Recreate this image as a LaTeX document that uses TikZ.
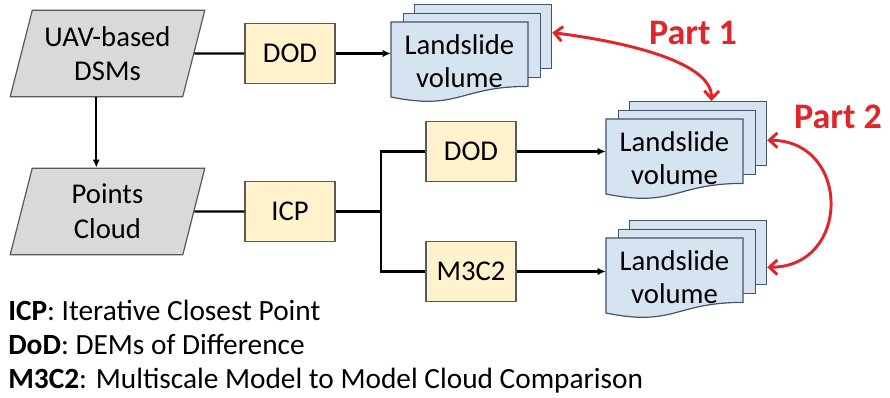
\documentclass[tikz,border=0pt]{standalone}
\usepackage{fontspec}
\setmainfont{Carlito}
\usetikzlibrary{shapes.geometric,arrows.meta}

\definecolor{inputgray}{HTML}{D9D9D9}
\definecolor{procyellow}{HTML}{FFF2CC}
\definecolor{volblue}{HTML}{D6E3F1}
\definecolor{voledge}{HTML}{44546A}
\definecolor{partred}{HTML}{E0262B}

\tikzset{
  input/.style={trapezium, trapezium left angle=68, trapezium right angle=112,
    trapezium stretches body, draw=black!65, line width=0.9pt, fill=inputgray,
    minimum width=146pt, minimum height=65pt, align=center, inner sep=0pt,
    font=\fontsize{21.5}{26}\selectfont},
  proc/.style={rectangle, draw=black!65, line width=0.9pt, fill=procyellow,
    minimum width=67.5pt, minimum height=45pt, font=\fontsize{21.5}{26}\selectfont},
  page/.style={rectangle, draw=voledge, line width=0.9pt, fill=volblue,
    minimum width=102.75pt, minimum height=48pt, anchor=north west, inner sep=0pt},
  voltext/.style={align=center, inner sep=0pt, minimum width=102.75pt,
    font=\fontsize{21.5}{25}\selectfont},
  flow/.style={line width=1.8pt},
  flowarrow/.style={flow, -{Latex[length=6pt,width=5.5pt]}},
  partarrow/.style={line width=2.2pt, partred,
    {Straight Barb[length=6pt,width=11pt]}-{Straight Barb[length=6pt,width=11pt]}},
  partlabel/.style={text=partred, font=\fontsize{27}{30}\selectfont\bfseries},
}

% stack of volume pages: name, top-left x and y of the front page
\newcommand{\volstack}[3]{
  \node[page] (#1b) at (#2+23,#3-18) {};
  \node[page] (#1m) at (#2+11.5,#3-9) {};
  \draw[voledge, line width=0.9pt, fill=volblue] (#2,#3) -- ++(137,0) -- ++(0,64.4)
    .. controls (#2+68.5,#3+64.4) and (#2+68.5,#3+89) .. (#2,#3+75) -- cycle;
  \node[voltext] (#1) at (#2+68.5,#3+39) {Landslide\\volume};
}

\begin{document}
\begin{tikzpicture}[x=0.75pt, y=-0.75pt]
  \useasboundingbox (0,0) rectangle (890,398);

  % inputs
  \node[input] (uav) at (107.5,53.5) {UAV-based\\DSMs};
  \node[input] (pts) at (107.5,211.5) {Points\\Cloud};

  % processing steps
  \node[proc] (dod1) at (290,53.5) {DOD};
  \node[proc] (icp) at (290,211.5) {ICP};
  \node[proc] (dod2) at (471,151.5) {DOD};
  \node[proc] (m3c2) at (471,271.5) {M3C2};

  % results
  \volstack{vol1}{391}{22}
  \volstack{vol2}{606}{119}
  \volstack{vol3}{606}{238}

  % flow lines
  \coordinate (split) at (381,211.5);
  \draw[flow] (uav.east) -- (dod1.west);
  \draw[flowarrow] (dod1.east) -- (dod1.east -| vol1.west);
  \draw[flowarrow] (uav.bottom side) -- (uav.bottom side |- pts.north);
  \draw[flow] (pts.east) -- (icp.west);
  \draw[flow] (icp.east) -- (split);
  \draw[flow] (dod2.west) -| (split) |- (m3c2.west);
  \draw[flowarrow] (dod2.east) -- (dod2.east -| vol2.west);
  \draw[flowarrow] (m3c2.east) -- (m3c2.east -| vol3.west);

  % comparisons
  \draw[partarrow] ([yshift=3pt]vol1b.east) .. controls +(64,8) and +(1,-41) .. ([xshift=10pt]vol2b.north);
  \draw[partarrow] ([yshift=-5pt]vol2b.east) .. controls +(84,0) and +(84,0) .. ([yshift=-11pt]vol3b.east);
  \node[partlabel] (part1) at (693,33) {Part 1};
  \node[partlabel] (part2) at (838,117) {Part 2};

  % legend
  \node[anchor=west, align=left, inner sep=0pt, font=\fontsize{22}{25.5}\selectfont] (legend) at (8,347)
    {\textbf{ICP}: Iterative Closest Point\\\textbf{DoD}: DEMs of Difference\\\textbf{M3C2}: Multiscale Model to Model Cloud Comparison};
\end{tikzpicture}
\end{document}
